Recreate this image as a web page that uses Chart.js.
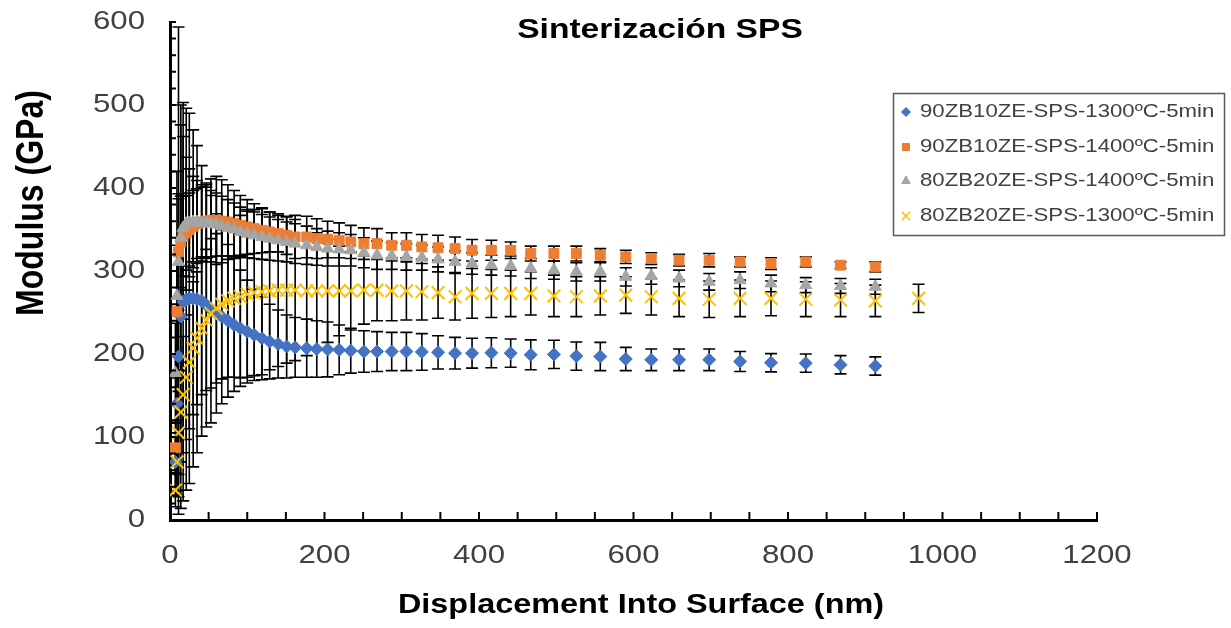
<!DOCTYPE html>
<html>
<head>
<meta charset="utf-8">
<title>Sinterización SPS</title>
<script src="https://cdn.jsdelivr.net/npm/chart.js@4.4.0/dist/chart.umd.min.js"></script>
<style>
  html, body { margin: 0; padding: 0; background: #fff; }
</style>
</head>
<body>
<canvas id="mycanvas" width="1231" height="628"></canvas>
<script>
// depth into surface (nm) for the nanoindentation averages
var depth = [7, 9, 11, 14, 17, 21, 25, 30, 35, 41, 47, 53, 60, 67, 75, 83, 91, 100, 109, 119,
  129, 140, 151, 162, 177, 190, 204, 219, 234, 251, 268, 287, 306, 326, 347, 369, 391, 416, 441, 467,
  497, 526, 557, 590, 623, 659, 698, 738, 778, 823, 868, 913];
var depth80_1300 = [7, 9, 11, 14, 17, 21, 25, 30, 35, 41, 47, 53, 60, 67, 75, 83, 91, 100, 109, 119,
  129, 140, 151, 162, 177, 190, 204, 219, 234, 251, 268, 287, 306, 326, 347, 369, 391, 416, 441, 467,
  497, 526, 557, 590, 623, 659, 698, 738, 778, 823, 868, 913, 969];

// modulus (GPa) and standard deviation per sample
var mod90_1300 = [70, 140, 197, 245, 263, 266, 267, 267, 266, 264, 259, 254, 249, 245, 240, 235, 231, 227, 223, 219,
  215, 212, 209, 208, 207, 206, 205.5, 205, 204, 203, 203, 203, 203, 202.5, 202, 201, 201, 201.5, 201, 199,
  199.5, 197.5, 197, 194, 193, 193, 193, 191, 189.5, 189, 187, 185.5];
var sd90_1300 = [30, 110, 190, 231, 240, 230, 223, 203, 185, 163, 147, 137, 120, 105, 92, 80, 70, 62, 55, 50,
  45, 41, 38, 36, 35, 34, 33, 30, 27, 25, 24, 23, 23, 22, 20, 19, 18, 18, 17, 18,
  17, 17, 17, 14, 13, 13, 13, 12, 11, 11, 11, 11];

var mod90_1400 = [87, 251, 323, 335, 342, 346, 350, 354, 357, 359, 360, 361, 361, 360, 359, 357, 355, 353, 351, 349,
  347, 345, 343, 341, 341, 339, 338, 337, 335, 333, 333, 331, 331, 329, 328, 327, 325, 325, 325, 321,
  321, 321, 319, 317, 315, 313, 313, 311, 309, 311, 307, 305];
var sd90_1400 = [30, 80, 70, 55, 48, 45, 44, 43, 42, 42, 44, 50, 53, 50, 45, 40, 36, 33, 30, 27,
  24, 22, 23, 26, 25, 24, 22, 21, 20, 19, 18, 15, 15, 15, 15, 14, 13, 12, 10, 9,
  9, 9, 8, 8, 7, 7, 8, 6, 7, 6, 4, 6];

var mod80_1400 = [177, 270, 311, 340, 352, 357, 358, 359, 359, 358, 358, 357, 356, 354, 352, 350, 347, 345, 343, 341,
  339, 337, 335, 333, 331, 329, 327, 326, 325, 322, 319, 318, 317, 316, 314, 311, 309, 307, 306, 303,
  301, 299, 299, 293, 294, 291, 287, 289, 285, 283, 282, 281];
var sd80_1400 = [60, 150, 283, 160, 110, 80, 65, 55, 50, 46, 43, 40, 38, 36, 34, 32, 30, 29, 28, 27,
  26, 25, 24, 24, 23, 22, 21, 20, 19, 18, 17, 16, 16, 15, 15, 13, 13, 12, 12, 12,
  11, 11, 11, 11, 10, 10, 10, 10, 10, 9, 9, 9];

var mod80_1300 = [36, 70, 105, 130, 151, 172, 190, 207, 219, 231, 241, 249, 255, 260, 264, 267, 269, 272, 274, 275,
  276, 277, 277, 277, 276, 276, 276, 276, 276, 277, 277, 276, 276, 275, 274, 269, 273, 273, 273, 273,
  270, 269, 270, 271, 269, 267, 266, 267, 267, 266, 265, 264, 267];
var sd80_1300 = [20, 35, 50, 60, 70, 75, 80, 80, 80, 80, 85, 90, 90, 90, 92, 95, 98, 100, 100, 100,
  95, 92, 88, 85, 78, 70, 62, 54, 47, 41, 37, 36, 35, 34, 31, 28, 30, 29, 28, 26,
  25, 24, 23, 22, 22, 22, 22, 22, 21, 21, 20, 19, 17];

var seriesNames = ['90ZB10ZE-SPS-1300ºC-5min', '90ZB10ZE-SPS-1400ºC-5min',
  '80ZB20ZE-SPS-1400ºC-5min', '80ZB20ZE-SPS-1300ºC-5min'];
var xTickValues = [0, 200, 400, 600, 800, 1000, 1200];
var yTickValues = [0, 100, 200, 300, 400, 500, 600];

var WIDEN = 1.2;   // text in this figure is set slightly wide
var FONT = '"Liberation Sans", Arial, sans-serif';

function toPoints(xs, ys) {
  return xs.map(function (x, i) { return { x: x, y: ys[i] }; });
}

function wideText(ctx, text, x, y, font, align, color) {
  ctx.save();
  ctx.font = font;
  ctx.fillStyle = color;
  ctx.textAlign = align;
  ctx.textBaseline = 'middle';
  ctx.translate(x, y);
  ctx.scale(WIDEN, 1);
  ctx.fillText(text, 0, 0);
  ctx.restore();
}

// vertical error bars (+/- sd) behind the markers
var errorBars = {
  id: 'errorBars',
  beforeDatasetsDraw: function (chart) {
    var ctx = chart.ctx, area = chart.chartArea;
    var xs = chart.scales.x, ys = chart.scales.y;
    ctx.save();
    ctx.beginPath();
    ctx.rect(area.left, area.top - 1, area.right - area.left, area.bottom - area.top + 1);
    ctx.clip();
    ctx.strokeStyle = '#000';
    ctx.lineWidth = 1.6;
    chart.data.datasets.forEach(function (ds) {
      ds.data.forEach(function (p, j) {
        var e = ds.errors[j];
        var px = xs.getPixelForValue(p.x);
        var top = ys.getPixelForValue(p.y + e);
        var bot = ys.getPixelForValue(p.y - e);
        ctx.beginPath();
        ctx.moveTo(px, top); ctx.lineTo(px, bot);
        ctx.moveTo(px - 6, top); ctx.lineTo(px + 6, top);
        ctx.moveTo(px - 6, bot); ctx.lineTo(px + 6, bot);
        ctx.stroke();
      });
    });
    ctx.restore();
  }
};

// inner minor ticks, tick labels, titles and the boxed legend
var decorations = {
  id: 'decorations',
  afterDraw: function (chart) {
    var ctx = chart.ctx, area = chart.chartArea;
    var xs = chart.scales.x, ys = chart.scales.y;
    var v;

    ctx.save();
    ctx.strokeStyle = '#000';
    ctx.lineWidth = 2;
    ctx.beginPath();
    for (v = 0; v <= 600; v += 20) {
      var ty = ys.getPixelForValue(v);
      ctx.moveTo(area.left, ty); ctx.lineTo(area.left + 6, ty);
    }
    for (v = 0; v <= 1200; v += 50) {
      var tx = xs.getPixelForValue(v);
      ctx.moveTo(tx, area.bottom); ctx.lineTo(tx, area.bottom - 8);
    }
    ctx.stroke();
    ctx.restore();

    yTickValues.forEach(function (t) {
      wideText(ctx, String(t), area.left - 25, ys.getPixelForValue(t), '26px ' + FONT, 'right', '#404040');
    });
    xTickValues.forEach(function (t) {
      wideText(ctx, String(t), xs.getPixelForValue(t), area.bottom + 36, '26px ' + FONT, 'center', '#404040');
    });

    wideText(ctx, 'Sinterización SPS', 660, 30, 'bold 28px ' + FONT, 'center', '#000');
    wideText(ctx, 'Displacement Into Surface (nm)', 641, 606, 'bold 27px ' + FONT, 'center', '#000');

    ctx.save();
    ctx.translate(32, 203);
    ctx.scale(WIDEN, 1);
    ctx.rotate(-Math.PI / 2);
    ctx.font = 'bold 32px ' + FONT;
    ctx.fillStyle = '#000';
    ctx.textAlign = 'center';
    ctx.textBaseline = 'middle';
    ctx.fillText('Modulus (GPa)', 0, 0);
    ctx.restore();

    // legend
    ctx.save();
    ctx.strokeStyle = '#595959';
    ctx.lineWidth = 1.5;
    ctx.strokeRect(893.5, 93.5, 331, 142);
    ctx.restore();
    var rows = [112, 147, 181, 216];
    var legendSizes = [4.5, 5, 5, 6];
    chart.data.datasets.forEach(function (ds, k) {
      ctx.save();
      ctx.fillStyle = ds.backgroundColor;
      ctx.strokeStyle = ds.borderColor;
      ctx.lineWidth = ds.pointStyle === 'crossRot' ? 1.5 : 1;
      Chart.helpers.drawPoint(ctx, { pointStyle: ds.pointStyle, radius: legendSizes[k], rotation: 0, borderWidth: ctx.lineWidth }, 906, rows[k]);
      ctx.restore();
      wideText(ctx, ds.label, 920, rows[k], '18.5px ' + FONT, 'left', '#404040');
    });
  }
};

var chardata = {
  datasets: [
    {
      label: seriesNames[0],
      data: toPoints(depth, mod90_1300),
      errors: sd90_1300,
      pointStyle: 'rectRot',
      pointRadius: 6.5,
      backgroundColor: '#4472C4',
      borderColor: '#4472C4',
      borderWidth: 1,
      order: 4
    },
    {
      label: seriesNames[1],
      data: toPoints(depth, mod90_1400),
      errors: sd90_1400,
      pointStyle: 'rect',
      pointRadius: 7,
      backgroundColor: '#ED7D31',
      borderColor: '#ED7D31',
      borderWidth: 1,
      order: 3
    },
    {
      label: seriesNames[2],
      data: toPoints(depth, mod80_1400),
      errors: sd80_1400,
      pointStyle: 'triangle',
      pointRadius: 7,
      backgroundColor: '#A5A5A5',
      borderColor: '#A5A5A5',
      borderWidth: 1,
      order: 2
    },
    {
      label: seriesNames[3],
      data: toPoints(depth80_1300, mod80_1300),
      errors: sd80_1300,
      pointStyle: 'crossRot',
      pointRadius: 9,
      backgroundColor: '#FFC000',
      borderColor: '#FFC000',
      borderWidth: 2,
      order: 1
    }
  ]
};

var ctx = document.getElementById('mycanvas');

var scatterGraph = new Chart(ctx, {
  type: 'scatter',
  data: chardata,
  plugins: [errorBars, decorations],
  options: {
    responsive: false,
    animation: false,
    layout: { padding: { left: 0, top: 22, right: 134, bottom: 0 } },
    plugins: {
      legend: { display: false },
      title: { display: false },
      tooltip: { enabled: false }
    },
    scales: {
      x: {
        type: 'linear',
        min: 0,
        max: 1200,
        ticks: { display: false, stepSize: 200 },
        grid: { display: false, drawTicks: false },
        border: { display: true, color: '#000', width: 3 },
        afterFit: function (scale) { scale.height = 108; }
      },
      y: {
        type: 'linear',
        min: 0,
        max: 600,
        ticks: { display: false, stepSize: 100 },
        grid: { display: false, drawTicks: false },
        border: { display: true, color: '#000', width: 3 },
        afterFit: function (scale) { scale.width = 170; }
      }
    }
  }
});
</script>
</body>
</html>
